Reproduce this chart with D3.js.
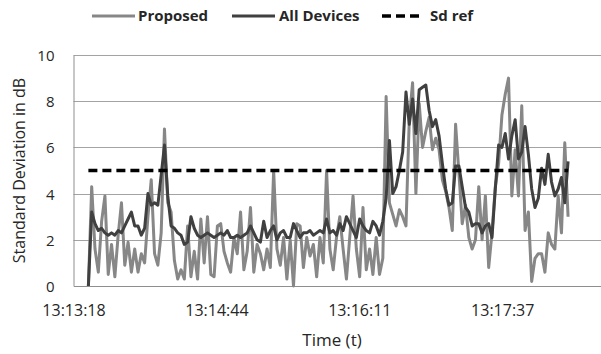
<!DOCTYPE html>
<html>
<head>
<meta charset="utf-8">
<script src="https://cdn.jsdelivr.net/npm/d3@7"></script>
<style>
  html, body { margin: 0; padding: 0; background: #fff; }
  svg { display: block; }
  text { font-family: "Open Sans", "Noto Sans", sans-serif; fill: #262626; }
</style>
</head>
<body>
<svg id="chart" width="601" height="354"></svg>
<script>
// Samples every 2 s, starting 9 s after 13:13:18
const startOffset = 9;
const sampleStep = 2;

const proposed = [
  0.0, 4.3, 1.6, 0.6, 2.8, 3.9, 0.5, 1.8, 0.4, 2.2, 3.6, 0.9, 1.9, 0.6, 1.6, 0.6,
  1.4, 1.0, 3.0, 4.6, 1.4, 0.9, 2.3, 6.8, 3.6, 3.2, 1.1, 0.3, 0.7, 0.3, 2.6, 0.4,
  1.5, 0.3, 2.9, 1.0, 3.0, 0.5, 0.4, 2.6, 2.7, 1.5, 1.0, 0.6, 2.1, 1.4, 3.2, 0.7,
  1.5, 3.4, 0.6, 1.8, 1.4, 0.7, 1.6, 0.8, 5.0, 1.6, 0.9, 2.1, 0.3, 2.0, 0.0, 2.7,
  2.6, 0.8, 2.1, 1.3, 1.8, 0.4, 2.1, 1.0, 5.0, 1.6, 0.7, 2.1, 3.0, 1.6, 0.3, 2.1,
  3.9, 1.6, 0.4, 3.4, 0.7, 1.6, 0.5, 2.1, 0.5, 1.2, 8.2, 3.6, 3.1, 2.6, 3.3, 3.0,
  2.6, 7.2, 8.8, 4.0, 7.9, 6.0, 6.7, 7.3, 5.9, 6.4, 5.9, 4.6, 4.1, 3.4, 2.4, 7.0,
  4.9, 2.7, 3.5, 2.1, 1.6, 2.0, 4.3, 2.0, 3.9, 0.8, 2.3, 4.3, 5.3, 7.4, 8.3, 9.0,
  3.9, 5.9, 3.9, 7.8, 2.4, 3.2, 0.2, 1.2, 1.4, 1.4, 0.6, 2.3, 1.8, 1.6, 3.9, 2.3,
  6.2, 3.0
];

const allDevices = [
  0.0, 3.2, 2.7, 2.4, 2.5, 2.3, 2.2, 2.3, 2.2, 2.4, 2.3, 2.6, 2.9, 3.2, 2.6, 2.6,
  2.2, 2.5, 4.0, 3.5, 3.6, 3.5, 4.8, 6.1, 3.9, 2.6, 2.5, 2.3, 2.2, 1.8, 1.9, 3.0,
  2.5, 2.2, 2.1, 2.2, 2.3, 2.2, 2.1, 2.2, 2.3, 2.2, 2.4, 2.1, 2.1, 2.2, 2.1, 2.2,
  2.3, 2.6, 2.3, 2.0, 1.9, 2.8, 2.1, 2.4, 2.6, 2.0, 2.3, 2.4, 2.1, 2.1, 2.7, 2.4,
  2.1, 2.3, 2.3, 2.4, 2.2, 2.3, 2.4, 2.3, 2.9, 2.3, 2.4, 2.2, 2.7, 2.4, 3.0, 2.7,
  2.4, 2.1, 2.9, 2.6, 2.4, 2.3, 2.8, 2.6, 2.2, 2.8, 3.8, 6.3, 4.0, 4.3, 5.0, 5.8,
  8.4, 7.0, 8.1, 6.6, 8.5, 8.6, 8.7, 7.6, 6.9, 7.2, 6.5, 5.3, 4.2, 3.5, 3.6, 5.2,
  5.2, 4.3, 3.4, 3.2, 2.6, 2.7, 2.7, 2.3, 2.6, 2.7, 2.1, 4.2, 6.1, 6.0, 6.6, 5.5,
  6.5, 7.2, 5.5, 5.8, 6.9, 5.7, 4.2, 3.4, 3.8, 5.1, 4.4, 5.7, 4.5, 3.9, 4.2, 4.7,
  3.6, 5.4
];

const sdRef = 5;

// Axis ticks: seconds after 13:13:18 and their clock labels
const tickSeconds = [0, 86.4, 172.8, 259.2];
const tickLabels = ["13:13:18", "13:14:44", "13:16:11", "13:17:37"];
const yTicks = [0, 2, 4, 6, 8, 10];

const seriesNames = ["Proposed", "All Devices", "Sd ref"];
const colors = { proposed: "#878787", all: "#404040", ref: "#000000" };

const svg = d3.select("#chart");
const plot = { left: 73.5, right: 601, top: 55, bottom: 286 };

const x = d3.scaleLinear().domain([0, 318.9]).range([plot.left, plot.right]);
const y = d3.scaleLinear().domain([0, 10]).range([plot.bottom, plot.top]);

const times = proposed.map((_, i) => startOffset + i * sampleStep);

// Horizontal gridlines (the top one closes the plot frame)
svg.append("g")
  .selectAll("line")
  .data(yTicks.filter(d => d > 0))
  .join("line")
  .attr("x1", plot.left).attr("x2", plot.right)
  .attr("y1", d => Math.round(y(d)) + 0.5)
  .attr("y2", d => Math.round(y(d)) + 0.5)
  .attr("stroke", "#a3a3a3").attr("stroke-width", 1);

// Y axis
const yAxis = svg.append("g")
  .attr("transform", `translate(${plot.left},0)`)
  .call(d3.axisLeft(y).tickValues(yTicks).tickSize(0).tickPadding(19).tickFormat(d3.format("d")));
yAxis.select(".domain").attr("stroke", "#8f8f8f");
yAxis.selectAll("text").style("font-size", "15px").attr("dy", "0.36em");

// X axis
const xAxis = svg.append("g")
  .attr("transform", `translate(0,${plot.bottom})`)
  .call(d3.axisBottom(x).tickValues(tickSeconds).tickSize(0).tickPadding(19)
    .tickFormat((d, i) => tickLabels[i]));
xAxis.select(".domain").attr("stroke", "#8f8f8f");
xAxis.selectAll("text").style("font-size", "16px");

const line = d3.line()
  .x((d, i) => x(times[i]))
  .y(d => y(d))
  .curve(d3.curveLinear);

svg.append("path")
  .datum(proposed)
  .attr("d", line)
  .attr("fill", "none")
  .attr("stroke", colors.proposed)
  .attr("stroke-width", 3)
  .attr("stroke-linejoin", "round");

svg.append("path")
  .datum(allDevices)
  .attr("d", line)
  .attr("fill", "none")
  .attr("stroke", colors.all)
  .attr("stroke-width", 3)
  .attr("stroke-linejoin", "round");

svg.append("line")
  .attr("x1", x(times[0])).attr("x2", x(times[times.length - 1]))
  .attr("y1", y(sdRef)).attr("y2", y(sdRef))
  .attr("stroke", colors.ref)
  .attr("stroke-width", 3.5)
  .attr("stroke-dasharray", "9,5");

// Axis titles
svg.append("text")
  .attr("transform", `translate(25,${(plot.top + plot.bottom) / 2}) rotate(-90)`)
  .attr("text-anchor", "middle")
  .style("font-size", "16px")
  .text("Standard Deviation in dB");

svg.append("text")
  .attr("x", 332).attr("y", 346)
  .attr("text-anchor", "middle")
  .style("font-size", "17px")
  .text("Time (t)");

// Legend
const legendItems = [
  { name: seriesNames[0], color: colors.proposed, dash: null, x1: 92, x2: 135, tx: 138 },
  { name: seriesNames[1], color: colors.all, dash: null, x1: 232, x2: 275, tx: 279 },
  { name: seriesNames[2], color: colors.ref, dash: "9,5", x1: 382, x2: 422, tx: 430 }
];
const legend = svg.append("g");
legendItems.forEach(item => {
  legend.append("line")
    .attr("x1", item.x1).attr("x2", item.x2)
    .attr("y1", 16).attr("y2", 16)
    .attr("stroke", item.color)
    .attr("stroke-width", item.dash ? 3.5 : 3)
    .attr("stroke-dasharray", item.dash);
  legend.append("text")
    .attr("x", item.tx).attr("y", 21)
    .style("font-size", "15px")
    .style("font-weight", "bold")
    .text(item.name);
});
</script>
</body>
</html>
